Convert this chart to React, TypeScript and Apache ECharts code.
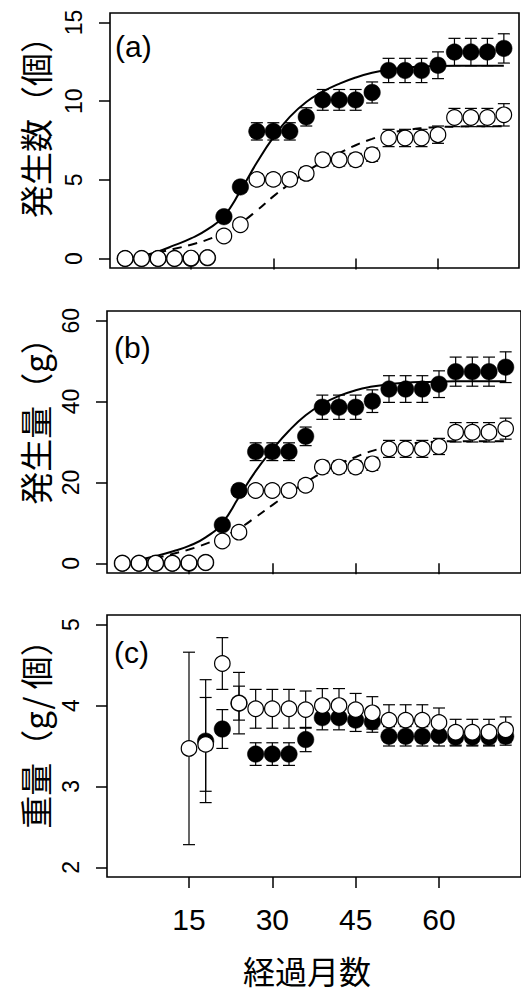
import React, { useEffect, useRef } from "react";
import * as echarts from "echarts";

// months of observation
const months = [3, 6, 9, 12, 15, 18, 21, 24, 27, 30, 33, 36, 39, 42, 45, 48, 51, 54, 57, 60, 63, 66, 69, 72];

// (a) 発生数（個）
const countFilled = [0, 0, 0, 0, 0, 0.05, 2.66, 4.55, 8.08, 8.08, 8.08, 9.0, 10.08, 10.08, 10.08, 10.55, 11.95, 11.95, 11.95, 12.28, 13.12, 13.12, 13.12, 13.35];
const countFilledErr = [0, 0, 0, 0, 0, 0.1, 0.3, 0.35, 0.55, 0.55, 0.55, 0.58, 0.66, 0.66, 0.66, 0.67, 0.77, 0.77, 0.77, 0.85, 0.87, 0.87, 0.87, 0.93];
const countOpen = [0, 0, 0, 0, 0.03, 0.06, 1.43, 2.15, 5.03, 5.03, 5.03, 5.41, 6.28, 6.28, 6.28, 6.6, 7.66, 7.66, 7.66, 7.87, 8.96, 8.96, 8.96, 9.13];
const countOpenErr = [0, 0, 0, 0, 0.05, 0.1, 0.2, 0.3, 0.35, 0.35, 0.35, 0.38, 0.4, 0.4, 0.4, 0.42, 0.55, 0.55, 0.55, 0.55, 0.58, 0.58, 0.58, 0.71];

// (b) 発生量（g）
const massFilled = [0, 0, 0, 0, 0, 0.2, 9.5, 18.0, 27.6, 27.6, 27.6, 31.4, 38.6, 38.6, 38.6, 40.1, 43.1, 43.1, 43.1, 44.3, 47.4, 47.4, 47.4, 48.5];
const massFilledErr = [0, 0, 0, 0, 0, 0.3, 1.0, 1.4, 2.2, 2.2, 2.2, 2.3, 3.0, 3.0, 3.0, 2.8, 3.3, 3.3, 3.3, 3.3, 3.6, 3.6, 3.6, 3.8];
const massOpen = [0, 0, 0, 0, 0.1, 0.2, 5.5, 7.7, 18.0, 18.0, 18.0, 19.3, 23.8, 23.8, 23.8, 24.6, 28.3, 28.3, 28.3, 28.9, 32.4, 32.4, 32.4, 33.3];
const massOpenErr = [0, 0, 0, 0, 0.2, 0.4, 0.8, 1.2, 1.3, 1.3, 1.3, 1.4, 1.5, 1.5, 1.5, 1.6, 2.1, 2.1, 2.1, 2.0, 2.4, 2.4, 2.4, 2.6];

// (c) 重量（g/個）
const weightFilledMonths = [18, 21, 24, 27, 30, 33, 36, 39, 42, 45, 48, 51, 54, 57, 60, 63, 66, 69, 72];
const weightFilled = [3.56, 3.71, 4.03, 3.4, 3.4, 3.4, 3.58, 3.85, 3.85, 3.82, 3.8, 3.62, 3.62, 3.62, 3.63, 3.61, 3.61, 3.61, 3.62];
const weightFilledErr = [0.76, 0.24, 0.21, 0.14, 0.14, 0.14, 0.15, 0.15, 0.15, 0.14, 0.13, 0.12, 0.12, 0.12, 0.13, 0.11, 0.11, 0.11, 0.11];
const weightOpenMonths = [15, 18, 21, 24, 27, 30, 33, 36, 39, 42, 45, 48, 51, 54, 57, 60, 63, 66, 69, 72];
const weightOpen = [3.47, 3.52, 4.52, 4.03, 3.96, 3.96, 3.96, 3.95, 4.0, 4.0, 3.95, 3.91, 3.82, 3.82, 3.82, 3.79, 3.67, 3.67, 3.67, 3.7];
const weightOpenErr = [1.19, 0.58, 0.32, 0.38, 0.24, 0.24, 0.24, 0.23, 0.21, 0.21, 0.2, 0.2, 0.19, 0.19, 0.19, 0.18, 0.16, 0.16, 0.16, 0.16];

// fitted curves
const curveMonths = [6, 9, 12, 15, 18, 21, 24, 27, 30, 33, 36, 39, 42, 45, 48, 51, 54, 57, 60, 63, 66, 69, 72];
const countFitFilled = [0.15, 0.45, 0.85, 1.28, 1.85, 2.7, 4.3, 6.1, 7.7, 9.0, 9.95, 10.6, 11.1, 11.5, 11.8, 12.0, 12.12, 12.2, 12.24, 12.25, 12.25, 12.25, 12.25];
const countFitOpen = [0.15, 0.38, 0.62, 0.88, 1.2, 1.65, 2.25, 3.05, 3.95, 4.75, 5.5, 6.15, 6.7, 7.2, 7.6, 7.95, 8.15, 8.28, 8.35, 8.38, 8.4, 8.4, 8.4];
const massFitFilled = [0.9, 1.8, 2.9, 4.3, 6.4, 10.0, 16.4, 22.8, 28.1, 32.8, 36.6, 39.4, 41.4, 42.8, 43.7, 44.3, 44.65, 44.85, 44.95, 45.0, 45.0, 45.0, 45.0];
const massFitOpen = [0.5, 1.3, 2.3, 3.4, 4.8, 6.5, 8.6, 11.4, 14.4, 17.3, 20.0, 22.4, 24.5, 26.3, 27.8, 28.8, 29.5, 29.9, 30.1, 30.2, 30.2, 30.2, 30.2];

// axis ticks
const xTicks = [15, 30, 45, 60];
const countTicks = [0, 5, 10, 15];
const massTicks = [0, 20, 40, 60];
const weightTicks = [2, 3, 4, 5];

const panelLabels = ["(a)", "(b)", "(c)"];
const yTitles = ["発生数（個）", "発生量（g）", "重量（g/ 個）"];
const xTitle = "経過月数";

const NUM_FONT = "'Liberation Sans', Arial, Helvetica, sans-serif";
const CJK_FONT = "'Noto Sans CJK JP', 'Noto Sans CJK SC', sans-serif";

const pairs = (xs: number[], ys: number[]) => xs.map((x, i) => [x, ys[i]]);
const errRows = (xs: number[], ys: number[], es: number[]) =>
  xs.map((x, i) => [x, ys[i], ys[i] - es[i], ys[i] + es[i]]);

function errorBars(data: number[][], gi: number, z: number) {
  return {
    type: "custom",
    xAxisIndex: gi,
    yAxisIndex: gi,
    z,
    silent: true,
    data,
    encode: { x: 0, y: [2, 3] },
    renderItem: (_params: any, api: any) => {
      const x = api.value(0);
      const lo = api.value(2);
      const hi = api.value(3);
      if (!(hi - lo > 0)) return { type: "group", children: [] };
      const top = api.coord([x, hi]);
      const bot = api.coord([x, lo]);
      const cap = 6;
      const st = { stroke: "#000", lineWidth: 1.2 };
      return {
        type: "group",
        children: [
          { type: "line", shape: { x1: top[0], y1: top[1], x2: bot[0], y2: bot[1] }, style: st },
          { type: "line", shape: { x1: top[0] - cap, y1: top[1], x2: top[0] + cap, y2: top[1] }, style: st },
          { type: "line", shape: { x1: bot[0] - cap, y1: bot[1], x2: bot[0] + cap, y2: bot[1] }, style: st },
        ],
      };
    },
  };
}

function fitLine(xs: number[], ys: number[], gi: number, dashed: boolean) {
  return {
    type: "line",
    xAxisIndex: gi,
    yAxisIndex: gi,
    z: 2,
    silent: true,
    data: pairs(xs, ys),
    showSymbol: false,
    symbol: "none",
    smooth: 0.5,
    lineStyle: { color: "#000", width: 2, type: dashed ? [9, 7] : "solid" },
  };
}

function points(xs: number[], ys: number[], gi: number, filled: boolean) {
  return {
    type: "scatter",
    xAxisIndex: gi,
    yAxisIndex: gi,
    z: filled ? 4 : 6,
    silent: true,
    data: pairs(xs, ys),
    symbol: "circle",
    symbolSize: filled ? 16.5 : 15.5,
    itemStyle: filled
      ? { color: "#000", borderColor: "#000", borderWidth: 0.5, opacity: 1 }
      : { color: "#fff", borderColor: "#000", borderWidth: 1.2, opacity: 1 },
  };
}

export default function App() {
  const ref = useRef<HTMLDivElement>(null);

  useEffect(() => {
    if (!ref.current) return;
    const chart = echarts.init(ref.current, undefined, { renderer: "svg" });

    const grids = [
      { left: 110, top: 13, width: 409, height: 255 },
      { left: 107, top: 311, width: 419, height: 262 },
      { left: 107, top: 615, width: 419, height: 262 },
    ].map((g) => ({ ...g, show: true, borderColor: "#000", borderWidth: 1.6, backgroundColor: "transparent", containLabel: false }));

    const xAxes = [0, 1, 2].map((i) => ({
      type: "value",
      gridIndex: i,
      min: 0.24,
      max: 74.76,
      axisLine: { show: false },
      splitLine: { show: false },
      axisTick: { show: true, customValues: xTicks, length: 11, lineStyle: { color: "#000", width: 1.5 } },
      axisLabel: {
        show: i === 2,
        customValues: xTicks,
        fontSize: 30,
        fontFamily: NUM_FONT,
        color: "#000",
        margin: 27,
      },
    }));

    const yRanges = [
      { min: -0.6, max: 15.6, ticks: countTicks },
      { min: -2.4, max: 62.4, ticks: massTicks },
      { min: 1.88, max: 5.12, ticks: weightTicks },
    ];
    const yAxes = yRanges.map((r, i) => ({
      type: "value",
      gridIndex: i,
      min: r.min,
      max: r.max,
      axisLine: { show: false },
      splitLine: { show: false },
      axisTick: { show: true, customValues: r.ticks, length: 11, lineStyle: { color: "#000", width: 1.5 } },
      axisLabel: {
        show: true,
        customValues: r.ticks,
        rotate: 90,
        fontSize: 23,
        fontFamily: NUM_FONT,
        color: "#000",
        margin: 25,
      },
    }));

    const series: any[] = [
      // panel (a)
      fitLine(curveMonths, countFitFilled, 0, false),
      fitLine(curveMonths, countFitOpen, 0, true),
      errorBars(errRows(months, countFilled, countFilledErr), 0, 3),
      points(months, countFilled, 0, true),
      errorBars(errRows(months, countOpen, countOpenErr), 0, 5),
      points(months, countOpen, 0, false),
      // panel (b)
      fitLine(curveMonths, massFitFilled, 1, false),
      fitLine(curveMonths, massFitOpen, 1, true),
      errorBars(errRows(months, massFilled, massFilledErr), 1, 3),
      points(months, massFilled, 1, true),
      errorBars(errRows(months, massOpen, massOpenErr), 1, 5),
      points(months, massOpen, 1, false),
      // panel (c)
      errorBars(errRows(weightFilledMonths, weightFilled, weightFilledErr), 2, 3),
      points(weightFilledMonths, weightFilled, 2, true),
      errorBars(errRows(weightOpenMonths, weightOpen, weightOpenErr), 2, 5),
      points(weightOpenMonths, weightOpen, 2, false),
    ];

    const labelPos = [
      { x: 115, y: 46 },
      { x: 114, y: 347 },
      { x: 114, y: 652 },
    ];
    const titlePos = [119, 413, 726];

    const graphic: any[] = [
      ...panelLabels.map((t, i) => ({
        type: "text",
        x: labelPos[i].x,
        y: labelPos[i].y,
        z: 10,
        style: { text: t, font: `30px ${NUM_FONT}`, fill: "#000", textAlign: "left", textVerticalAlign: "middle" },
      })),
      ...yTitles.map((t, i) => ({
        type: "text",
        x: 35,
        y: titlePos[i],
        rotation: Math.PI / 2,
        z: 10,
        style: { text: t, font: `33px ${CJK_FONT}`, fill: "#000", textAlign: "center", textVerticalAlign: "middle" },
      })),
      {
        type: "text",
        x: 307,
        y: 970,
        z: 10,
        style: { text: xTitle, font: `32px ${CJK_FONT}`, fill: "#000", textAlign: "center", textVerticalAlign: "middle" },
      },
    ];

    chart.setOption({
      animation: false,
      backgroundColor: "#fff",
      grid: grids,
      xAxis: xAxes,
      yAxis: yAxes,
      series,
      graphic,
    });

    return () => chart.dispose();
  }, []);

  return <div ref={ref} style={{ position: "absolute", left: 0, top: 0, width: 521, height: 993 }} />;
}
